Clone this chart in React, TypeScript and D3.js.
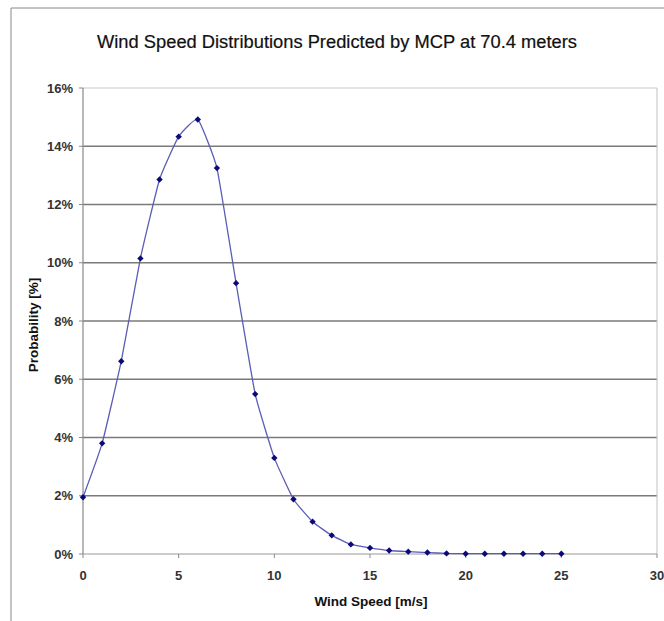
import React from "react";
import * as d3 from "d3";

const windSpeeds = [0, 1, 2, 3, 4, 5, 6, 7, 8, 9, 10, 11, 12, 13, 14, 15, 16, 17, 18, 19, 20, 21, 22, 23, 24, 25];
const probabilities = [1.95, 3.8, 6.62, 10.15, 12.86, 14.33, 14.92, 13.25, 9.3, 5.49, 3.3, 1.88, 1.11, 0.64, 0.33, 0.21, 0.12, 0.08, 0.05, 0.02, 0.01, 0.01, 0.01, 0.01, 0.01, 0.01];
const xTicks = [0, 5, 10, 15, 20, 25, 30];
const yTicks = [0, 2, 4, 6, 8, 10, 12, 14, 16];

const W = 664;
const H = 621;
const left = 83, right = 657, top = 88, bottom = 554;

export default function App() {
  const x = d3.scaleLinear().domain([0, 30]).range([left, right]);
  const y = d3.scaleLinear().domain([0, 16]).range([bottom, top]);
  const data = windSpeeds.map((s, i) => ({ s, p: probabilities[i] }));
  const line = d3.line<{ s: number; p: number }>()
    .x(d => x(d.s))
    .y(d => y(d.p))
    .curve(d3.curveCardinal.tension(0.6));
  const font = "'Liberation Sans', Arial, sans-serif";
  return (
    <svg width={W} height={H} style={{ position: "absolute", left: 0, top: 0, background: "#fff" }} fontFamily={font}>
      <rect x={0} y={0} width={W} height={H} fill="#fff" />
      {/* outer frame */}
      <line x1={11} y1={8} x2={W} y2={8} stroke="#888" strokeWidth={1} />
      <line x1={11} y1={8} x2={11} y2={H} stroke="#888" strokeWidth={1} />
      <text x={337} y={48} textAnchor="middle" fontSize={17.5} fill="#111" stroke="#111" strokeWidth={0.2} textLength={480} lengthAdjust="spacingAndGlyphs">
        Wind Speed Distributions Predicted by MCP at 70.4 meters
      </text>
      {/* gridlines */}
      {yTicks.filter(t => t > 0 && t < 16).map(t => (
        <line key={t} x1={left} x2={right} y1={y(t)} y2={y(t)} stroke="#7a7a7a" strokeWidth={1.3} />
      ))}
      {/* plot border top/right */}
      <line x1={left} x2={right} y1={y(16)} y2={y(16)} stroke="#c8c8c8" strokeWidth={1} />
      <line x1={right} x2={right} y1={top} y2={bottom} stroke="#c0c0c0" strokeWidth={1} />
      {/* axes */}
      <line x1={left} x2={left} y1={top} y2={bottom} stroke="#888" strokeWidth={1.2} />
      <line x1={left} x2={right} y1={bottom} y2={bottom} stroke="#999" strokeWidth={1.2} />
      {yTicks.map(t => (
        <g key={t}>
          <line x1={left - 4} x2={left} y1={y(t)} y2={y(t)} stroke="#888" />
          <text x={73} y={y(t) + 4.5} textAnchor="end" fontSize={13} fontWeight="bold" fill="#333">{t}%</text>
        </g>
      ))}
      {xTicks.map(t => (
        <g key={t}>
          <line x1={x(t)} x2={x(t)} y1={bottom} y2={bottom + 4} stroke="#888" />
          <text x={x(t)} y={580} textAnchor="middle" fontSize={13} fontWeight="bold" fill="#333">{t}</text>
        </g>
      ))}
      <text x={371} y={606} textAnchor="middle" fontSize={13.5} fontWeight="bold" fill="#111">Wind Speed [m/s]</text>
      <text transform={`translate(38,${325}) rotate(-90)`} textAnchor="middle" fontSize={13.5} fontWeight="bold" fill="#111">Probability [%]</text>
      <path d={line(data) || ""} fill="none" stroke="#5c5cb8" strokeWidth={1.3} />
      {data.map(d => (
        <path key={d.s} d={`M${x(d.s)},${y(d.p) - 3.2}L${x(d.s) + 3.2},${y(d.p)}L${x(d.s)},${y(d.p) + 3.2}L${x(d.s) - 3.2},${y(d.p)}Z`} fill="#0a0a78" />
      ))}
    </svg>
  );
}
